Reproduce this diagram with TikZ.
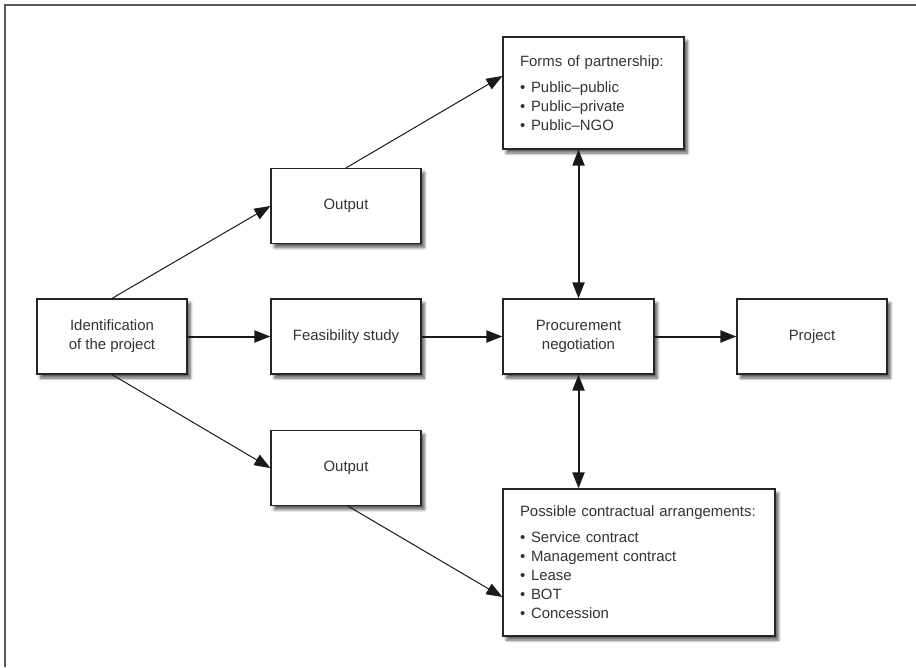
\documentclass[tikz,border=0pt]{standalone}
\usepackage{fontspec}
\setmainfont{Liberation Sans}
\usetikzlibrary{arrows.meta,calc,shadows.blur}

\newcommand{\bulletitem}[1]{\makebox[8.25pt][l]{\textbullet}#1}

\begin{document}
\begin{tikzpicture}[x=0.75pt,y=-0.75pt,>={Triangle[length=12pt,width=9pt]},
  font=\fontsize{11.2pt}{14.25pt}\selectfont,
  main node/.style={rectangle,draw=black!85,line width=0.9pt,fill=white,text=black!80,align=center,inner sep=0pt,minimum width=112.5pt,minimum height=56.25pt,blur shadow={shadow xshift=2.5pt,shadow yshift=-3pt,shadow blur steps=6,shadow opacity=65}},
  list node/.style={main node,align=left,inner xsep=12.75pt},
  thin line/.style={->,line width=0.75pt,black!90},
  thick line/.style={->,line width=1.5pt,black!90}]

    \useasboundingbox (0,0) rectangle (916,667);
    \draw[black!65,line width=1.2pt] (5,667) -- (5,5) -- (916,5);

    \node[main node] (ident) at (112,336.5) {Identification\\of the project};
    \node[main node] (feas) at (346,336.5) {Feasibility study};
    \node[main node] (out1) at (346,206) {Output};
    \node[main node] (out2) at (346,468) {Output};
    \node[main node,minimum width=113.25pt] (proc) at (578.5,336.5) {Procurement\\negotiation};
    \node[main node] (project) at (812,336.5) {Project};

    \node[list node,text width=110.25pt,minimum height=84pt] (forms) at (593.5,93)
        {Forms of partnership:\\[5.25pt]
         \bulletitem{Public–public}\\
         \bulletitem{Public–private}\\
         \bulletitem{Public–NGO}};
    \node[list node,text width=178.5pt,minimum height=110.25pt] (possible) at (639,562.5)
        {Possible contractual arrangements:\\[5.25pt]
         \bulletitem{Service contract}\\
         \bulletitem{Management contract}\\
         \bulletitem{Lease}\\
         \bulletitem{BOT}\\
         \bulletitem{Concession}};

    \draw[thin line] (ident.north) -- (out1.west);
    \draw[thin line] (ident.south) -- (out2.west);
    \draw[thin line] (out1.north) -- ($(forms.west)+(0,-17)$);
    \draw[thin line] ([xshift=1.5pt]out2.south) -- ($(possible.west)+(0,34.5)$);

    \draw[thick line] (ident.east) -- (feas.west);
    \draw[thick line] (feas.east) -- (proc.west);
    \draw[thick line] (proc.east) -- (project.west);
    \draw[thick line,<->] (proc.north) -- (proc.north |- forms.south);
    \draw[thick line,<->] (proc.south) -- (proc.south |- possible.north);
\end{tikzpicture}
\end{document}
